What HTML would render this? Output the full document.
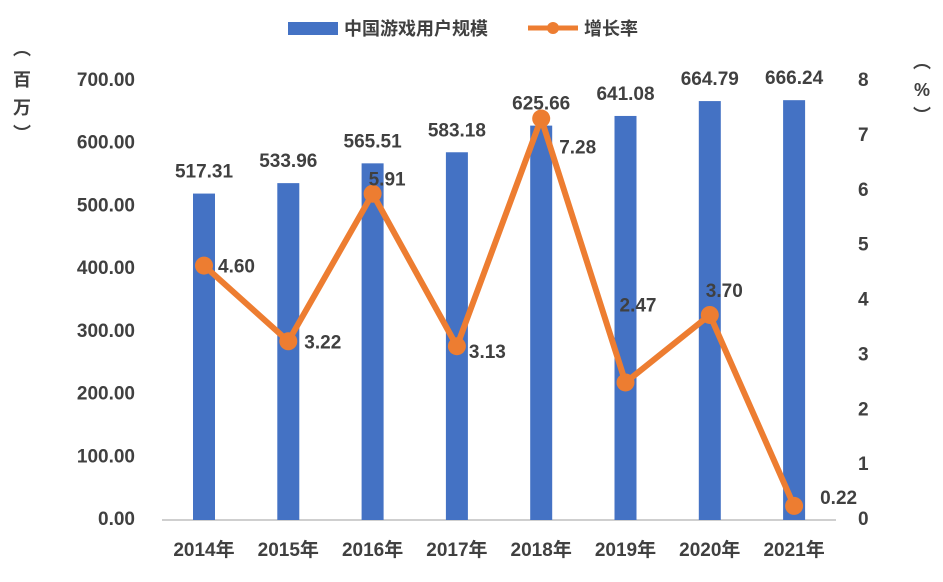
<!DOCTYPE html>
<html><head><meta charset="utf-8">
<style>
html,body{margin:0;padding:0;background:#fff;}
svg text{font-family:"Liberation Sans","Noto Sans CJK SC",sans-serif;font-weight:bold;fill:#404040;}
</style></head>
<body>
<svg id="chart" width="943" height="577" xmlns="http://www.w3.org/2000/svg">
<g>
<rect x="288" y="22" width="50" height="13" fill="#4472C4"/>
<text x="344" y="35" font-size="18">中国游戏用户规模</text>
<line x1="528" y1="28" x2="578" y2="28" stroke="#ED7D31" stroke-width="5"/>
<circle cx="553" cy="28" r="6" fill="#ED7D31"/>
<text x="584" y="35" font-size="18">增长率</text>
</g>
<g>
<text x="22" y="55" font-size="18" text-anchor="middle">︵</text>
<text x="22" y="86" font-size="18" text-anchor="middle">百</text>
<text x="22" y="114" font-size="18" text-anchor="middle">万</text>
<text x="22" y="140" font-size="18" text-anchor="middle">︶</text>
</g>
<g>
<text x="922" y="68" font-size="18" text-anchor="middle">︵</text>
<text x="922" y="96" font-size="18" text-anchor="middle">%</text>
<text x="922" y="122" font-size="18" text-anchor="middle">︶</text>
</g>
<g id="left-axis"></g>
<g id="right-axis"></g>
<g id="x-axis"></g>
<g id="bars"></g>
<g id="line"></g>
</svg>
<script>
const categories = ["2014年","2015年","2016年","2017年","2018年","2019年","2020年","2021年"];
const users = [517.31,533.96,565.51,583.18,625.66,641.08,664.79,666.24];
const growth = [4.60,3.22,5.91,3.13,7.28,2.47,3.70,0.22];
const leftTicks = [0,100,200,300,400,500,600,700];
const rightTicks = [0,1,2,3,4,5,6,7,8];

const NS="http://www.w3.org/2000/svg";
const y0=518, yTop=79;
const yL=v=>y0-(v/700)*(y0-yTop);
const yR=v=>y0-(v/8)*(y0-yTop);
const xC=i=>204+i*84.3;
function mk(tag,attrs,parent,txt){const e=document.createElementNS(NS,tag);for(const k in attrs)e.setAttribute(k,attrs[k]);if(txt!==undefined)e.textContent=txt;parent.appendChild(e);return e;}
const gL=document.getElementById('left-axis'),gR=document.getElementById('right-axis'),gX=document.getElementById('x-axis'),gB=document.getElementById('bars'),gLn=document.getElementById('line');
leftTicks.forEach(t=>{const e=mk('text',{x:135,y:yL(t)+7,'font-size':19,'text-anchor':'end'},gL,t.toFixed(2));

});
rightTicks.forEach(t=>{const e=mk('text',{x:858,y:yR(t)+7,'font-size':19,'text-anchor':'start'},gR,String(t));

});
mk('line',{x1:162,y1:520,x2:836,y2:520,stroke:'#BFBFBF','stroke-width':1.5},gX);
categories.forEach((c,i)=>{const e=mk('text',{x:xC(i),y:556,'font-size':19,'text-anchor':'middle'},gX,c);

});
users.forEach((v,i)=>{const r=mk('rect',{x:xC(i)-11,y:yL(v),width:22,height:y0+2-yL(v),fill:'#4472C4'},gB);


const t=mk('text',{x:xC(i),y:yL(v)-16,'font-size':19,'text-anchor':'middle'},gB,v.toFixed(2));

});
const pts=growth.map((v,i)=>xC(i)+','+yR(v)).join(' ');
mk('polyline',{points:pts,fill:'none',stroke:'#ED7D31','stroke-width':6,'stroke-linejoin':'round'},gLn);
const ldx=[14,16,-4,12,18,-6,-4,26], ldy=[7,7,-8,12,35,-71,-18,-2];
growth.forEach((v,i)=>{const c=mk('circle',{cx:xC(i),cy:yR(v),r:9,fill:'#ED7D31'},gLn);


const t=mk('text',{x:xC(i)+ldx[i],y:yR(v)+ldy[i],'font-size':19,'text-anchor':'start'},gLn,v.toFixed(2));

});
</script>
</body></html>
